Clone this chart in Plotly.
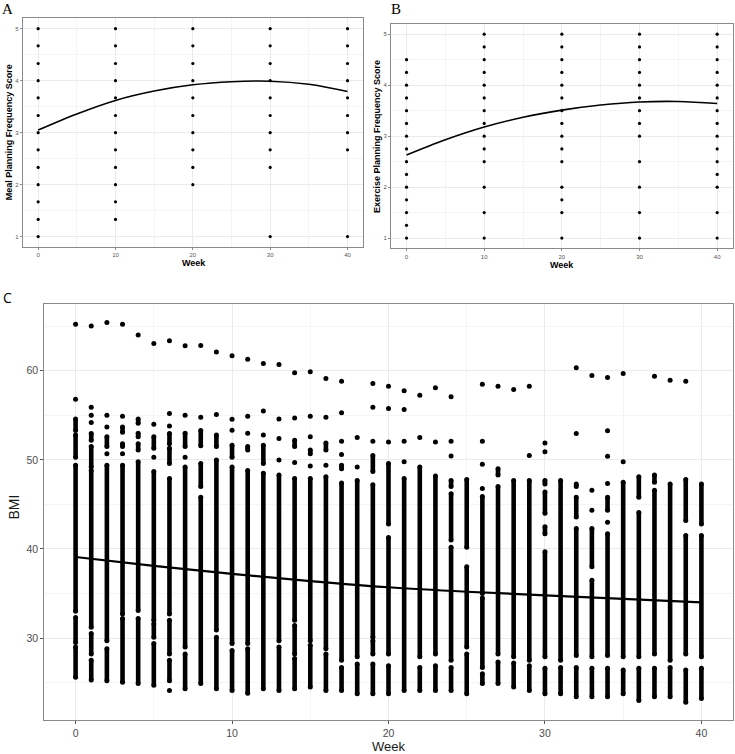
import plotly.graph_objects as go

# ---------------- Panel A: Meal planning frequency ----------------
meal_weeks = [0, 10, 20, 30, 40]
meal_scores = [
    [1, 1.33, 1.67, 2, 2.33, 2.67, 3, 3.33, 3.67, 4, 4.33, 4.67, 5],
    [1.33, 1.67, 2, 2.33, 2.67, 3, 3.33, 3.67, 4, 4.33, 4.67, 5],
    [2, 2.33, 2.67, 3, 3.33, 3.67, 4, 4.33, 4.67, 5],
    [1, 2.33, 2.67, 3, 3.33, 3.67, 4, 4.33, 4.67, 5],
    [1, 2.67, 3, 3.33, 3.67, 4, 4.33, 4.67, 5],
]
meal_fit_weeks = [0, 5, 10, 15, 20, 25, 30, 35, 40]
meal_fit = [3.05, 3.36, 3.62, 3.80, 3.92, 3.98, 3.99, 3.93, 3.79]

# ---------------- Panel B: Exercise planning frequency ----------------
ex_weeks = [0, 10, 20, 30, 40]
ex_scores = [
    [1, 1.25, 1.5, 1.75, 2, 2.25, 2.5, 2.75, 3, 3.25, 3.5, 3.75, 4, 4.25, 4.5],
    [1, 1.5, 2, 2.5, 2.75, 3, 3.25, 3.5, 3.75, 4, 4.25, 4.5, 4.75, 5],
    [1, 1.5, 1.75, 2, 2.5, 2.75, 3, 3.25, 3.5, 3.75, 4, 4.25, 4.5, 4.75, 5],
    [1, 1.5, 2, 2.5, 3, 3.25, 3.5, 3.75, 4, 4.25, 4.5, 4.75, 5],
    [1, 1.5, 2, 2.25, 2.5, 2.75, 3, 3.25, 3.5, 3.75, 4, 4.25, 4.5, 4.75, 5],
]
ex_fit_weeks = [0, 5, 10, 15, 20, 25, 30, 35, 40]
ex_fit = [2.63, 2.93, 3.18, 3.37, 3.51, 3.61, 3.67, 3.68, 3.64]

# ---------------- Panel C: BMI ----------------
bmi_weeks = list(range(41))
# isolated BMI observations per week
bmi_isolated = [
    [65.24, 56.8], [65.02, 55.9, 55.0, 54.2], [65.43, 55.0, 53.7, 50.7],
    [65.24, 54.9, 50.7], [64.01], [63.07, 54.0, 50.3], [63.37, 55.2, 53.8, 24.1],
    [62.81, 55.0, 50.3], [62.85, 54.8], [62.10, 55.1], [61.69, 54.57, 53.33],
    [61.31, 54.9, 53.0], [60.83, 55.5, 52.8], [60.71, 54.6, 52.4, 50.0],
    [59.78, 54.7, 49.7], [59.89, 54.9, 52.6, 49.3], [59.14, 54.8, 49.4],
    [58.84, 55.3, 52.1, 50.6], [52.5, 49.2], [58.58, 55.9, 52.1],
    [58.28, 55.77, 52.02], [57.75, 55.66, 52.1, 49.8], [57.27, 52.5],
    [58.09, 52.0], [57.08, 52.1, 50.45], [], [58.5, 52.1, 49.5, 46.8],
    [58.28], [57.9], [58.28, 50.5], [51.9, 50.9], [], [60.34, 52.96],
    [59.48, 46.6, 44.35], [59.25, 53.26, 50.41, 47.34, 43.0], [59.7, 49.78],
    [], [59.4], [58.95], [58.84], [],
]
# densely packed BMI observations per week, as (high, low) runs
bmi_dense = [
    [(54.6, 53.3), (52.8, 50.3), (49.4, 33.0), (32.3, 29.5), (29.0, 25.6)],
    [(52.96, 52.2), (51.5, 49.2), (48.8, 31.2), (30.5, 28.2), (27.5, 25.3)],
    [(52.6, 51.5), (49.4, 29.7), (28.8, 25.2)],
    [(53.7, 53.1), (51.8, 51.5), (49.4, 32.7), (32.2, 25.05)],
    [(54.6, 54.1), (53.0, 52.6), (51.8, 51.1), (49.8, 33.1), (32.2, 24.9)],
    [(52.6, 51.3), (48.7, 32.0), (31.6, 30.1), (29.4, 24.7)],
    [(52.96, 51.8), (51.3, 49.6), (47.9, 32.7), (32.0, 28.2), (27.5, 25.2)],
    [(53.0, 51.5), (49.2, 29.0), (28.2, 24.3)],
    [(53.3, 51.6), (49.6, 47.0), (45.8, 24.9)],
    [(52.8, 51.5), (50.0, 30.9), (30.1, 24.3)],
    [(51.65, 50.3), (49.2, 29.4), (28.6, 24.1)],
    [(51.5, 51.1), (48.8, 29.4), (28.8, 23.8)],
    [(51.65, 49.6), (48.5, 24.3)],
    [(48.3, 29.7), (29.0, 24.1)],
    [(52.2, 51.5), (47.9, 32.0), (31.4, 28.2), (27.7, 24.3)],
    [(51.1, 50.7), (47.9, 29.7), (29.2, 24.5)],
    [(51.9, 51.1), (48.1, 28.8), (28.2, 24.1)],
    [(49.4, 49.0), (47.4, 27.5), (26.7, 24.1)],
    [(47.7, 27.9), (27.1, 23.75)],
    [(50.5, 48.7), (47.2, 30.1), (29.7, 28.2), (27.1, 23.75)],
    [(49.6, 42.8), (41.3, 28.2), (26.9, 23.75)],
    [(47.9, 24.1)],
    [(49.2, 27.9), (26.7, 24.1)],
    [(48.2, 28.2), (26.9, 24.1)],
    [(47.7, 47.0), (46.2, 41.0), (40.2, 27.5), (26.7, 24.1)],
    [(47.8, 40.2), (38.0, 29.0), (28.2, 23.75)],
    [(45.9, 35.0), (34.5, 26.7), (26.0, 24.9)],
    [(49.0, 48.3), (47.0, 28.2), (27.3, 24.9)],
    [(47.7, 27.9), (27.2, 24.5)],
    [(47.7, 27.5), (26.9, 24.1)],
    [(47.7, 47.3), (46.4, 44.0), (42.5, 41.7), (39.7, 27.9), (26.6, 23.75)],
    [(47.7, 27.5), (26.7, 23.75)],
    [(47.3, 47.0), (45.8, 43.6), (42.3, 28.05), (26.7, 23.4)],
    [(42.3, 38.0), (36.5, 27.9), (26.6, 23.4)],
    [(45.8, 44.35), (41.7, 28.05), (26.6, 23.4)],
    [(47.5, 27.9), (26.4, 23.75)],
    [(48.1, 45.8), (44.1, 27.9), (26.6, 23.0)],
    [(48.3, 47.5), (46.6, 28.2), (26.6, 23.4)],
    [(47.3, 27.5), (26.7, 23.4)],
    [(47.8, 43.2), (41.5, 28.2), (26.4, 22.8)],
    [(47.3, 42.8), (41.5, 27.9), (26.6, 23.2)],
]
bmi_fit_weeks = [0, 5, 10, 15, 20, 25, 30, 35, 40]
bmi_fit = [39.1, 38.1, 37.2, 36.4, 35.7, 35.2, 34.8, 34.4, 34.0]

W, H = 735, 754
def px(x): return x / W
def py(y): return 1 - y / H

fig = go.Figure()

# Panel A
ax, ay = [], []
for w, vals in zip(meal_weeks, meal_scores):
    ax += [w] * len(vals); ay += vals
fig.add_trace(go.Scatter(x=ax, y=ay, mode="markers", marker=dict(color="black", size=3.2),
                         xaxis="x", yaxis="y", hoverinfo="skip"))
fig.add_trace(go.Scatter(x=meal_fit_weeks, y=meal_fit, mode="lines", line=dict(color="black", width=1.6, shape="spline"),
                         xaxis="x", yaxis="y"))

# Panel B
bx, by = [], []
for w, vals in zip(ex_weeks, ex_scores):
    bx += [w] * len(vals); by += vals
fig.add_trace(go.Scatter(x=bx, y=by, mode="markers", marker=dict(color="black", size=3.2),
                         xaxis="x2", yaxis="y2", hoverinfo="skip"))
fig.add_trace(go.Scatter(x=ex_fit_weeks, y=ex_fit, mode="lines", line=dict(color="black", width=1.6, shape="spline"),
                         xaxis="x2", yaxis="y2"))

# Panel C
dx, dy = [], []
for w, runs in zip(bmi_weeks, bmi_dense):
    for hi, lo in runs:
        dx += [w, w, None]; dy += [hi, lo, None]
fig.add_trace(go.Scatter(x=dx, y=dy, mode="lines+markers", line=dict(color="black", width=4.6),
                         marker=dict(color="black", size=5), xaxis="x3", yaxis="y3", hoverinfo="skip"))
ix, iy = [], []
for w, vals in zip(bmi_weeks, bmi_isolated):
    ix += [w] * len(vals); iy += vals
fig.add_trace(go.Scatter(x=ix, y=iy, mode="markers", marker=dict(color="black", size=5),
                         xaxis="x3", yaxis="y3", hoverinfo="skip"))
fig.add_trace(go.Scatter(x=bmi_fit_weeks, y=bmi_fit, mode="lines", line=dict(color="black", width=2.2, shape="spline"),
                         xaxis="x3", yaxis="y3"))

frame = "#8a8a8a"
grid = "#ebebeb"
minor_grid = "#f5f5f5"

def small_axis(domain, anchor, rng, dtick, mdtick):
    return dict(domain=domain, anchor=anchor, range=rng, dtick=dtick,
                showline=True, mirror=True, linecolor=frame, linewidth=1,
                showgrid=True, gridcolor=grid, gridwidth=1, zeroline=False,
                ticks="outside", ticklen=2, tickcolor=frame, tickwidth=0.8,
                tickfont=dict(family="Arial, Liberation Sans", size=6, color="#555555"),
                minor=dict(dtick=mdtick, showgrid=True, gridcolor=minor_grid, gridwidth=0.6, ticks=""))

fig.update_layout(
    width=W, height=H, margin=dict(l=0, r=0, t=0, b=0),
    paper_bgcolor="white", plot_bgcolor="white", showlegend=False,
    xaxis=small_axis([px(22.7), px(363)], "y", [-2, 42], 10, 5),
    yaxis=small_axis([py(247), py(18.3)], "x", [0.8, 5.2], 1, 0.5),
    xaxis2=small_axis([px(391), px(732.7)], "y2", [-2, 42], 10, 5),
    yaxis2=small_axis([py(248.3), py(24)], "x2", [0.8, 5.2], 1, 0.5),
    xaxis3=dict(domain=[px(44.3), px(732.7)], anchor="y3", range=[-2, 42], dtick=10,
                showline=True, mirror=True, linecolor=frame, linewidth=1,
                showgrid=True, gridcolor=grid, zeroline=False,
                ticks="outside", ticklen=3, tickcolor="#555555",
                tickfont=dict(family="Arial, Liberation Sans", size=10.5, color="#4d4d4d"),
                minor=dict(dtick=5, showgrid=True, gridcolor=minor_grid, ticks="")),
    yaxis3=dict(domain=[py(720), py(304)], anchor="x3", range=[20.8, 67.5], tickvals=[30, 40, 50, 60],
                showline=True, mirror=True, linecolor=frame, linewidth=1,
                showgrid=True, gridcolor=grid, zeroline=False,
                ticks="outside", ticklen=3, tickcolor="#555555",
                tickfont=dict(family="Arial, Liberation Sans", size=10.5, color="#4d4d4d"),
                minor=dict(tickvals=[25, 35, 45, 55, 65], showgrid=True, gridcolor=minor_grid, ticks="")),
)

ann = []
def add(text, x, y, size, family, bold=False, angle=0, color="black"):
    ann.append(dict(text=("<b>%s</b>" % text) if bold else text, x=px(x), y=py(y), xref="paper", yref="paper",
                    showarrow=False, xanchor="center", yanchor="middle", textangle=angle,
                    font=dict(size=size, family=family, color=color)))

add("A", 8, 9, 15, "Liberation Serif, Times New Roman, serif")
add("B", 396, 9, 15, "Liberation Serif, Times New Roman, serif")
add("C", 7, 298, 14, "Open Sans, Noto Sans, sans-serif")
add("Meal Planning Frequency Score", 8.5, 132.7, 9, "Arial, Liberation Sans", bold=True, angle=-90)
add("Week", 194, 263, 9, "Arial, Liberation Sans", bold=True)
add("Exercise Planning Frequency Score", 377.5, 136.5, 9, "Arial, Liberation Sans", bold=True, angle=-90)
add("Week", 562, 265, 9, "Arial, Liberation Sans", bold=True)
add("BMI", 13.5, 507, 14, "Arial, Liberation Sans", angle=-90, color="#1a1a1a")
add("Week", 388, 746.5, 13, "Arial, Liberation Sans", color="#1a1a1a")
fig.update_layout(annotations=ann)

fig.write_html("out.html", config={"displayModeBar": False},
               post_script="document.body.style.margin='0';document.body.style.overflow='hidden';")
